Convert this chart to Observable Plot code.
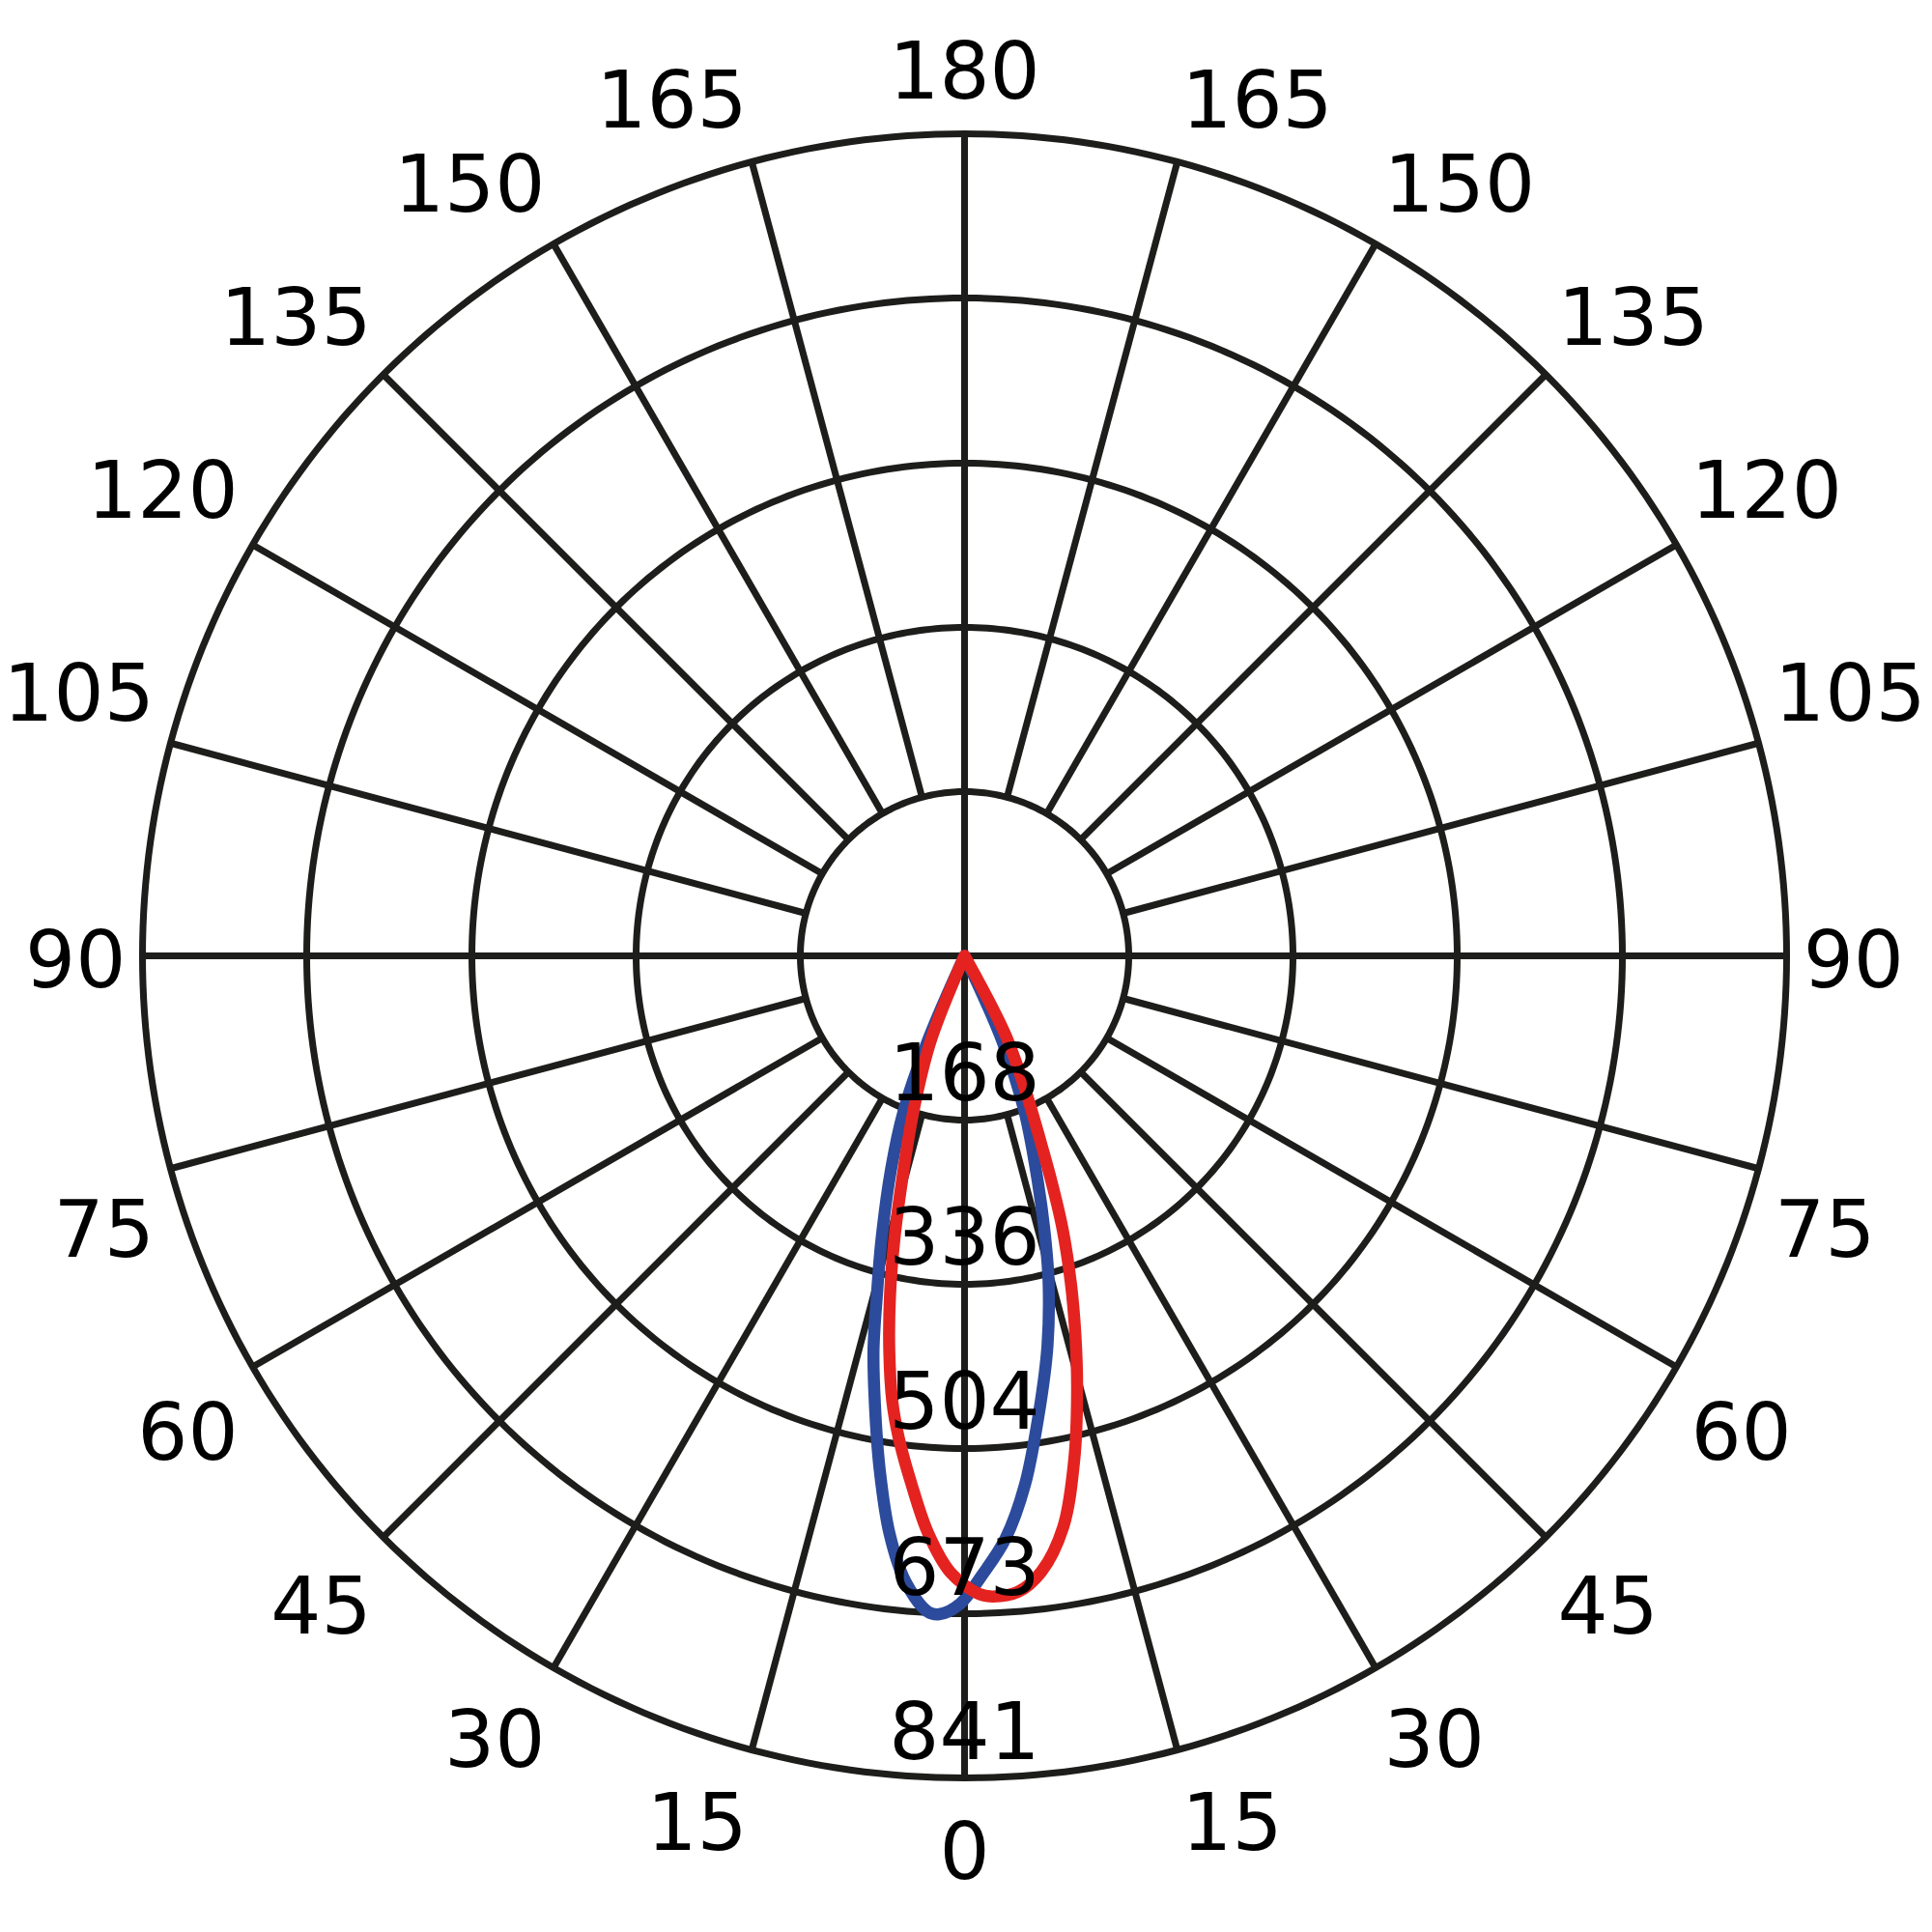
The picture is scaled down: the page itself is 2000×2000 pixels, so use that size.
<!DOCTYPE html>
<html>
<head>
<meta charset="utf-8">
<script src="https://cdn.jsdelivr.net/npm/d3@7"></script>
<script src="https://cdn.jsdelivr.net/npm/@observablehq/plot@0.6"></script>
<style>
  html, body { margin: 0; padding: 0; background: #ffffff; }
  #chart svg { display: block; }
</style>
</head>
<body>
<div id="chart"></div>
<script>
// ---- Data ----
// Angle tick labels (degrees from nadir), shown on both halves
const angleTicks = [0, 15, 30, 45, 60, 75, 90, 105, 120, 135, 150, 165, 180];
// Intensity rings (cd) and their labels
const ringTicks = [168, 336, 504, 673, 841];
const maxValue = 841;

// Blue curve: signed angle (deg, + = right half) and intensity (cd)
const blueAngles = [-25, -23.4, -21.4, -19.0, -16.3, -14.5, -13.0, -11.3, -9.4, -7.4, -5.4, -3.2, -2.2, -0.4, 1.6, 4.0, 6.5, 9.4, 12.0, 14.4, 15.9, 17.9, 21.1, 23.9, 26];
const blueValues = [0, 95, 171, 231, 303, 358, 414, 468, 532, 596, 643, 672, 674, 663, 634, 598, 545, 470, 408, 346, 302, 245, 170, 95, 0];

// Red curve: signed angle (deg) and intensity (cd)
const redAngles = [-24, -21.7, -18.2, -15.3, -13.9, -12.4, -10.8, -9.2, -7.8, -5.7, -3.6, -1.3, 1.3, 2.5, 4.8, 7.1, 9.8, 12.3, 14.5, 16.3, 18.0, 19.8, 21.0, 21.9, 24.4, 27.4, 30];
const redValues = [0, 94, 168, 247, 299, 355, 411, 462, 497, 544, 592, 631, 653, 656, 653, 635, 593, 527, 460, 404, 352, 295, 250, 217, 150, 90, 0];

// ---- Layout constants ----
const W = 2000, H = 2000;
const cx = 998, cy = 989, outerPx = 851;
const labelR = 858;          // data units, where angle labels are anchored
const fontSize = 82;
const gridColor = "#1d1d1b";
const blueColor = "#2c4b9c";
const redColor = "#e42320";
const dyFor = {bottom: -19, top: 29, middle: 6};

// ---- Helpers: polar -> cartesian (0 deg points down) ----
const rad = a => a * Math.PI / 180;
const px = d => d.v * Math.sin(rad(d.a));
const py = d => -d.v * Math.cos(rad(d.a));

const blue = blueAngles.map((a, i) => ({a, v: blueValues[i]}));
const red = redAngles.map((a, i) => ({a, v: redValues[i]}));

// Rings
const rings = ringTicks.flatMap(r => d3.range(0, 361, 1).map(a => ({ring: r, a, v: r})));

// Spokes every 15 deg; the 0/90/180/270 axes run through the center
const spokes = d3.range(0, 360, 15).map(a => ({a, v0: a % 90 === 0 ? 0 : ringTicks[0], v1: maxValue}));

// Angle labels
const angleLabels = angleTicks.flatMap(t => (t === 0 || t === 180) ? [{a: t, text: String(t)}] : [{a: -t, text: String(t)}, {a: t, text: String(t)}])
  .map(d => {
    const s = Math.sin(rad(d.a)), c = Math.cos(rad(d.a));
    return {
      ...d, v: labelR,
      textAnchor: Math.abs(s) < 1e-6 ? "middle" : (s > 0 ? "start" : "end"),
      lineAnchor: Math.abs(c) < 1e-6 ? "middle" : (c > 0 ? "top" : "bottom")
    };
  });
const labelGroups = d3.groups(angleLabels, d => d.textAnchor + "|" + d.lineAnchor);

const ringLabels = ringTicks.map(r => ({a: 0, v: r, text: String(r)}));

const marks = [
  Plot.line(rings, {x: px, y: py, z: "ring", stroke: gridColor, strokeWidth: 7}),
  Plot.link(spokes, {
    x1: d => d.v0 * Math.sin(rad(d.a)), y1: d => -d.v0 * Math.cos(rad(d.a)),
    x2: d => d.v1 * Math.sin(rad(d.a)), y2: d => -d.v1 * Math.cos(rad(d.a)),
    stroke: gridColor, strokeWidth: 7
  }),
  Plot.line(blue, {x: px, y: py, stroke: blueColor, strokeWidth: 12.5, curve: "catmull-rom"}),
  Plot.line(red, {x: px, y: py, stroke: redColor, strokeWidth: 12.5, curve: "catmull-rom"}),
  ...labelGroups.map(([key, arr]) => Plot.text(arr, {
    x: px, y: py, text: "text",
    textAnchor: arr[0].textAnchor, lineAnchor: arr[0].lineAnchor,
    dy: dyFor[arr[0].lineAnchor],
    fontSize, fill: "#000"
  })),
  Plot.text(ringLabels, {x: px, y: py, text: "text", textAnchor: "middle", lineAnchor: "bottom", dy: -20, fontSize, fill: "#000"})
];

const chart = Plot.plot({
  width: W, height: H,
  margin: 0,
  x: {domain: [-maxValue, maxValue], range: [cx - outerPx, cx + outerPx], axis: null},
  y: {domain: [-maxValue, maxValue], range: [cy + outerPx, cy - outerPx], axis: null},
  style: {fontFamily: "'DejaVu Sans', Verdana, sans-serif", background: "#ffffff", overflow: "visible"},
  marks
});
document.getElementById("chart").appendChild(chart);
</script>
</body>
</html>
